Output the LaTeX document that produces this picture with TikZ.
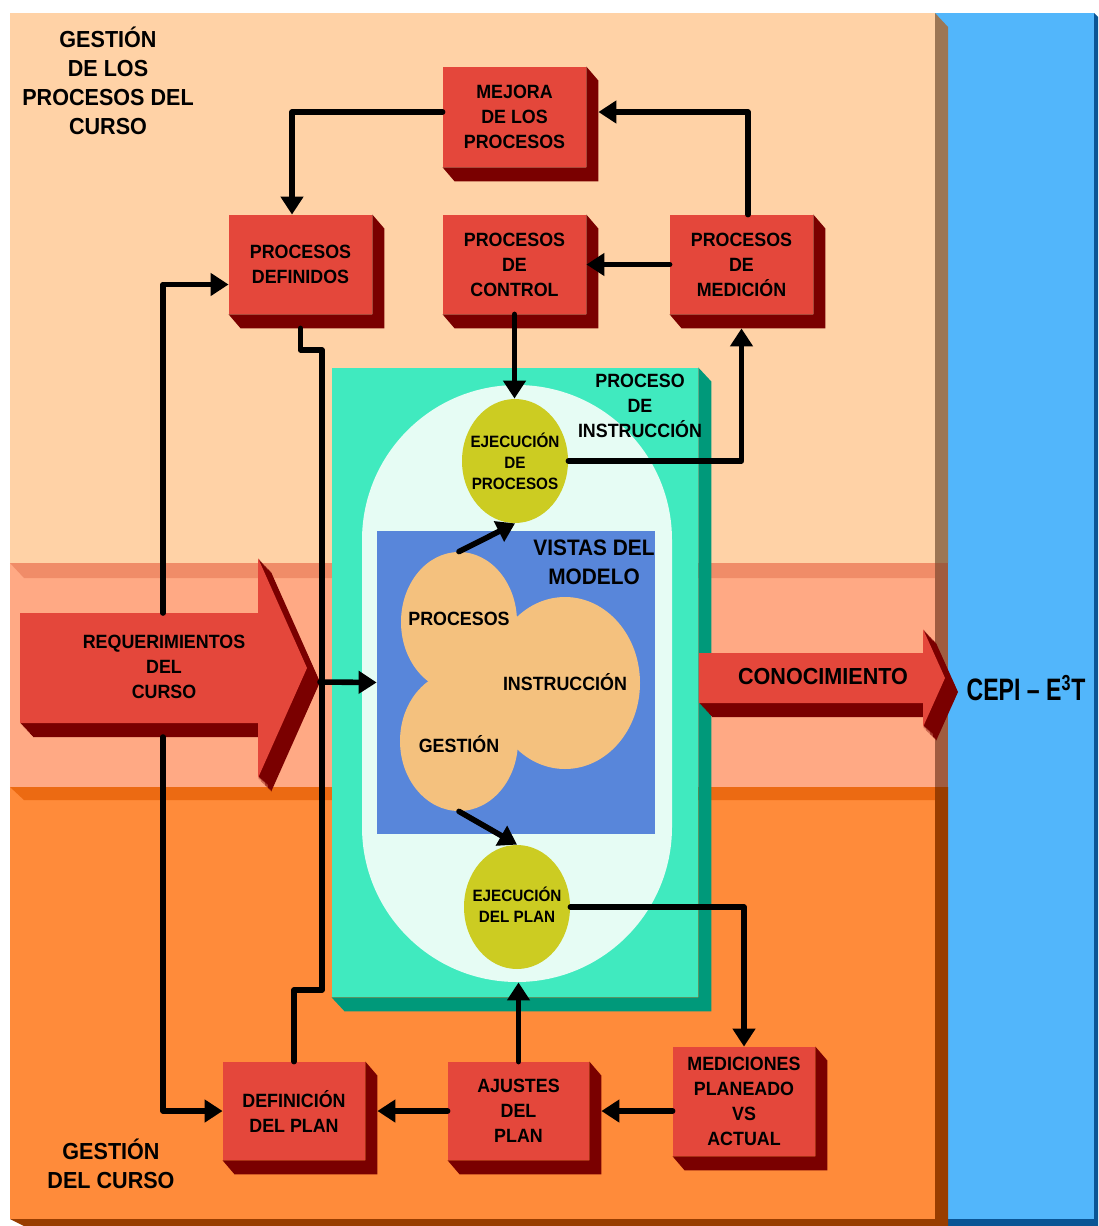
\documentclass[tikz,border=0pt]{standalone}
\usepackage{fontspec}
\setmainfont{Liberation Sans}[FakeStretch=0.93]
\usetikzlibrary{arrows.meta,shapes.geometric}

% palette
\definecolor{peach}{HTML}{FFD2A6}
\definecolor{salmon}{HTML}{FFA984}
\definecolor{salmontop}{HTML}{F08C68}
\definecolor{orng}{HTML}{FF8B3A}
\definecolor{orngtop}{HTML}{EC6A12}
\definecolor{sideA}{HTML}{9C7654}
\definecolor{sideB}{HTML}{A05C40}
\definecolor{sideC}{HTML}{993D00}
\definecolor{skyblue}{HTML}{52B6FB}
\definecolor{deepblue}{HTML}{0A5595}
\definecolor{mint}{HTML}{40EABF}
\definecolor{mintdeep}{HTML}{00997A}
\definecolor{palemint}{HTML}{E6FCF4}
\definecolor{viewblue}{HTML}{5886DA}
\definecolor{tan}{HTML}{F4C17E}
\definecolor{olive}{HTML}{CCCC22}
\definecolor{brick}{HTML}{E4473B}
\definecolor{maroon}{HTML}{7A0000}

\newcommand\cbxfont{\bfseries\fontsize{9.6pt}{12.5pt}\selectfont}
\newcommand\chdfont{\bfseries\fontsize{11.6pt}{14.5pt}\selectfont}
\newcommand\cblfont{\bfseries\fontsize{8.2pt}{10.5pt}\selectfont}
% dark side faces of a block: node, colour, depth x, depth y
\newcommand\extrude[4]{\fill[#2] (#1.north east) -- ++(#3,#4) -- ([shift={(#3,#4)}]#1.south east) -- ([shift={(#3,#4)}]#1.south west) -- (#1.south west) -- (#1.south east) -- cycle;}

\tikzset{
  slab/.style={rectangle, fill=brick, inner sep=0pt, minimum width=71.5pt, minimum height=49.5pt, align=center, font=\cbxfont},
  blob/.style={ellipse, fill=olive, inner sep=0pt, minimum width=53pt, minimum height=62pt},
  view/.style={ellipse, fill=tan, inner sep=0pt},
  lbl/.style={align=center, font=\cbxfont, inner sep=0pt},
  blbl/.style={align=center, font=\cblfont, inner sep=0pt},
  hdr/.style={align=center, font=\chdfont, inner sep=0pt},
  conn/.style={line width=2.8pt, line cap=round, line join=round, -{Triangle[length=9pt,width=11pt]}},
  link/.style={line width=2.8pt, line cap=round, line join=round},
}

\begin{document}
\begin{tikzpicture}[x=0.5pt,y=-0.5pt]
\fill[white] (0,0) rectangle (1098,1226);
\useasboundingbox (0,0) rectangle (1098,1226);

% outside panel
\fill[skyblue] (935,13) rectangle (1094,1219);
\fill[deepblue] (1094,13) -- (1098,17) -- (1098,1226) -- (948,1226) -- (948,1219) -- (1094,1219) -- cycle;

% three bands
\fill[peach] (10,13) rectangle (935,563);
\fill[sideA] (935,13) -- (948,27) -- (948,563) -- (935,563) -- cycle;
\fill[salmon] (10,563) rectangle (935,787);
\fill[salmontop] (10,563) -- (935,563) -- (935,578) -- (24,578) -- cycle;
\fill[sideB] (935,563) rectangle (948,787);
\fill[orng] (10,787) rectangle (935,1219);
\fill[orngtop] (10,787) -- (935,787) -- (935,800) -- (24,800) -- cycle;
\fill[sideC] (935,787) -- (948,787) -- (948,1226) -- (24,1226) -- (10,1219) -- (935,1219) -- cycle;

\node[hdr] (hTop) at (108,81) {GESTIÓN\\DE LOS\\PROCESOS DEL\\CURSO};
\node[hdr] (hBot) at (111,1164) {GESTIÓN\\DEL CURSO};

% instruction process block
\node[rectangle, fill=mint, minimum width=183pt, minimum height=314.5pt, inner sep=0pt] (grn) at (515,682.5) {};
\extrude{grn}{mintdeep}{13}{14}
\node[rectangle, rounded corners=77.5pt, fill=palemint, minimum width=155pt, minimum height=298.5pt, inner sep=0pt] (wht) at (517,683.5) {};
\node[rectangle, fill=viewblue, minimum width=139pt, minimum height=151.5pt, inner sep=0pt] (vis) at (516,682.5) {};
\node[view, minimum width=58pt, minimum height=70pt] (pro) at (459,622) {};
\node[view, minimum width=59pt, minimum height=70pt] (ges) at (459,741) {};
\node[view, minimum width=75pt, minimum height=86pt] (ins) at (565,683) {};
\node[lbl] (proL) at (459,619) {PROCESOS};
\node[lbl] (gesL) at (459,744) {GESTIÓN};
\node[lbl] (insL) at (565,682) {INSTRUCCIÓN};
\node[align=center, inner sep=0pt, font=\bfseries\fontsize{11.2pt}{14.5pt}\selectfont] (visL) at (594,562) {VISTAS DEL\\MODELO};
\node[lbl] (grnL) at (640,406) {PROCESO\\DE\\INSTRUCCIÓN};
\node[blob] (ejp) at (515,461) {};
\node[blbl] (ejpL) at (515,461) {EJECUCIÓN\\DE\\PROCESOS};
\node[blob] (epl) at (517,907) {};
\node[blbl] (eplL) at (517,905) {EJECUCIÓN\\DEL PLAN};

% process blocks
\node[slab, minimum height=50pt] (mej) at (514.5,117) {MEJORA\\DE LOS\\PROCESOS};
\extrude{mej}{maroon}{12}{14}
\node[slab] (def) at (300.5,264.5) {PROCESOS\\DEFINIDOS};
\extrude{def}{maroon}{12}{14}
\node[slab] (ctl) at (514.5,264.5) {PROCESOS\\DE\\CONTROL};
\extrude{ctl}{maroon}{12}{14}
\node[slab] (med) at (741.5,264.5) {PROCESOS\\DE\\MEDICIÓN};
\extrude{med}{maroon}{12}{14}
\node[slab, minimum width=71pt, minimum height=49pt] (dfp) at (294,1111) {DEFINICIÓN\\DEL PLAN};
\extrude{dfp}{maroon}{12}{14}
\node[slab, minimum width=70.5pt, minimum height=49pt] (aju) at (518.5,1111) {AJUSTES\\DEL\\PLAN};
\extrude{aju}{maroon}{12}{14}
\node[slab, minimum width=71pt, minimum height=54.5pt] (mpa) at (744,1101.5) {MEDICIONES\\PLANEADO\\VS\\ACTUAL};
\extrude{mpa}{maroon}{12}{14}

% course requirements arrow
\foreach \k in {1,...,14}
  \fill[maroon, shift={({\k*13/14},\k)}] (20,613) -- (258,613) -- (258,558) -- (307,668) -- (258,778) -- (258,723) -- (20,723) -- cycle;
\fill[brick] (20,613) -- (258,613) -- (258,558) -- (307,668) -- (258,778) -- (258,723) -- (20,723) -- cycle;
\node[lbl] (req) at (164,667) {REQUERIMIENTOS\\DEL\\CURSO};
\coordinate (reqtop) at (163,613);
\coordinate (reqbot) at (163,737);
\coordinate (reqtip) at (320,682);

% knowledge arrow
\foreach \k in {1,...,14}
  \fill[maroon, shift={({\k*13/14},\k)}] (699,653) -- (923,653) -- (923,629) -- (945,678) -- (923,727) -- (923,703) -- (699,703) -- cycle;
\fill[brick] (699,653) -- (923,653) -- (923,629) -- (945,678) -- (923,727) -- (923,703) -- (699,703) -- cycle;
\node[align=center, inner sep=0pt, font=\bfseries\fontsize{11.6pt}{14pt}\selectfont] (know) at (823,677) {CONOCIMIENTO};
\node[inner sep=0pt, font=\bfseries\fontsize{15.5pt}{18pt}\selectfont] (cepi) at (1026,688) {\scalebox{0.8}[1]{CEPI – E\textsuperscript{3}T}};

% connectors
\draw[conn] ([yshift=2.5pt]mej.west) -| ([xshift=-4.25pt]def.north);
\draw[conn] ([xshift=3.25pt]med.north) |- ([shift={(12,-5)}]mej.east);
\draw[conn] (med.west) -- (ctl.east);
\draw[conn] (ctl.south) -- (ctl.south |- ejp.north);
\draw[conn] (ejp.east) -| ([shift={(0,14)}]med.south);
\draw[conn] (reqtop) |- ([yshift=-10pt]def.west);
\draw[conn] (reqbot) |- (dfp.west);
\coordinate (jA) at (322,350);
\coordinate (jB) at (322,990);
\draw[link] ([yshift=-7pt]def.south) |- (jA) -- (jB) -| (dfp.north);
\draw[conn] (reqtip) -- (vis.west);
\draw[conn] (pro.north) -- (ejp.south);
\draw[conn] (ges.south) -- (epl.north);
\draw[conn] (epl.east) -| (mpa.north);
\draw[conn] ([yshift=-4.75pt]mpa.west) -- ([shift={(12,0)}]aju.east);
\draw[conn] (aju.west) -- ([shift={(12,0)}]dfp.east);
\draw[conn] (aju.north) -- (aju.north |- wht.south);
\end{tikzpicture}
\end{document}
